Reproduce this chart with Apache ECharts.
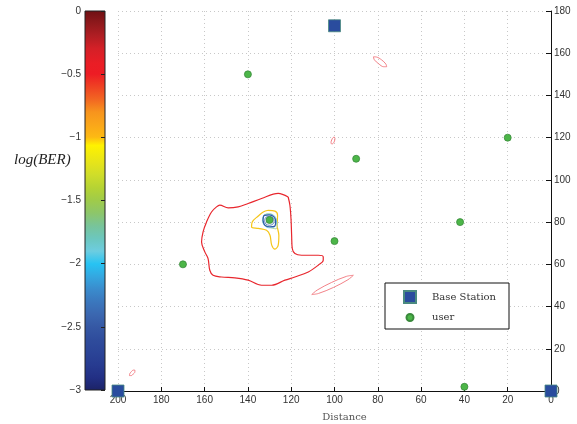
<!DOCTYPE html>
<html><head><meta charset="utf-8">
<script src="https://cdn.jsdelivr.net/npm/echarts@6/dist/echarts.min.js"></script>
<style>html,body{margin:0;padding:0;background:#fff}#c{width:577px;height:424px}</style>
</head><body><div id="c"></div><script>
// ---- data ----
const baseStations = [[200,0],[0,0],[100,173]];
const users = [[140,150],[20,120],[90,110],[42,80],[100,71],[130,81],[170,60],[40,2]];
const berRange = [-3, 0];
const contourRed = [[121.4,91.9],[126.0,93.6],[133.7,91.2],[139.9,88.8],[144.5,87.2],[149.1,86.7],[153.0,88.0],[154.5,87.2],[156.8,84.8],[159.1,80.1],[160.7,75.4],[161.4,70.6],[159.9,65.9],[158.4,62.7],[157.6,57.2],[156.1,54.8],[152.2,54.0],[146.0,53.6],[139.9,52.5],[133.7,50.1],[129.0,50.1],[122.9,52.5],[118.3,54.0],[112.1,56.4],[107.5,59.6],[105.2,61.9],[105.2,63.5],[107.5,64.3],[115.2,64.3],[118.3,65.1],[119.5,67.5],[119.8,73.8],[120.1,81.7],[120.6,88.0],[121.4,91.9]];
const contourRedA = [[75.9,153.6],[76.3,154.9],[78.3,156.9],[80.6,158.2],[82.0,158.3],[81.6,156.9],[79.6,155.0],[77.3,153.6],[75.9,153.6]];
const contourRedB = [[100.1,120.3],[99.8,119.7],[100.0,118.4],[100.6,117.3],[101.3,117.0],[101.6,117.7],[101.3,118.9],[100.7,120.0],[100.1,120.3]];
const contourRedC = [[91.3,54.8],[93.8,52.7],[100.4,49.1],[107.4,46.2],[110.5,45.7],[108.0,47.8],[101.4,51.4],[94.5,54.3],[91.3,54.8]];
const contourRedD = [[192.2,9.9],[192.2,9.1],[192.9,8.1],[193.9,7.3],[194.7,7.3],[194.6,8.1],[193.9,9.1],[192.9,9.9],[192.2,9.9]];
const contourYellow = [[130.6,85.6],[127.5,85.2],[126.3,83.3],[126.5,78.5],[125.7,73.8],[126.0,69.1],[127.5,67.2],[129.0,69.1],[129.8,73.8],[131.4,76.1],[135.2,77.0],[138.3,77.7],[138.0,80.1],[135.2,82.9],[132.9,84.8],[130.6,85.6]];
const contourGreen = [[133.2,81.5],[132.5,83.3],[130.5,84.0],[128.3,83.4],[127.0,81.5],[126.4,78.5],[127.0,76.8],[128.8,77.2],[131.0,78.0],[132.8,79.3],[133.2,81.5]];
const contourCyan = [[133.3,80.9],[132.5,83.2],[130.2,83.8],[127.7,82.8],[126.8,80.0],[127.6,77.8],[129.9,77.3],[132.4,78.4],[133.3,80.9]];
const contourBlue = [[133.0,80.8],[132.4,83.2],[130.2,83.4],[128.0,82.5],[127.2,80.3],[127.8,78.0],[130.0,77.8],[132.2,78.6],[133.0,80.8]];
const contourNavy = [[132.3,80.7],[131.7,82.3],[130.1,82.7],[128.5,82.1],[127.9,80.5],[128.5,79.0],[130.1,78.5],[131.7,79.1],[132.3,80.7]];

// ---- styling ----
const jet = [
  [0.000,'#6e1013'],[0.033,'#8f191c'],[0.067,'#b01e23'],[0.100,'#d42027'],[0.140,'#ea1d25'],[0.167,'#ed1c24'],
  [0.200,'#ef4123'],[0.233,'#f26522'],[0.267,'#f7941d'],[0.300,'#faa61a'],[0.333,'#fdb913'],[0.355,'#fff200'],
  [0.400,'#e6e41a'],[0.433,'#cfdd2a'],[0.467,'#b5d334'],[0.500,'#9fcb4a'],[0.533,'#8dc66a'],[0.567,'#78c49a'],
  [0.600,'#6cc7be'],[0.633,'#6dcde0'],[0.667,'#27c3f3'],[0.700,'#34a7e0'],[0.733,'#3a8ccd'],[0.767,'#3b77bd'],
  [0.800,'#3b67b0'],[0.833,'#3558a4'],[0.867,'#2f4c9c'],[0.900,'#2b4497'],[0.933,'#273b90'],[0.967,'#222f84'],[1.000,'#1c2266']
].map(s=>({offset:s[0],color:s[1]}));

const contours = [
  {d:contourRed, c:'#e8262d', w:1.2},
  {d:contourRedA, c:'#f0747a', w:0.9},
  {d:contourRedB, c:'#f0747a', w:0.9},
  {d:contourRedC, c:'#f0747a', w:0.9},
  {d:contourRedD, c:'#f0747a', w:0.9},
  {d:contourYellow, c:'#f5c518', w:1.2},
  {d:contourGreen, c:'#b2d69a', w:1},
  {d:contourCyan, c:'#7fcbe0', w:1},
  {d:contourBlue, c:'#2e5aa8', w:1.2},
  {d:contourNavy, c:'#3a6cb8', w:0.8}
];

const axisFont = {fontFamily:'Liberation Sans, Arial, sans-serif', fontSize:10, color:'#333'};
const serif = 'DejaVu Serif, serif';
const grid = {type:[1,3], color:'#c8c8c8', width:1};

const series = contours.map((k,i)=>({
  type:'line', name:'c'+i, xAxisIndex:0, yAxisIndex:0, data:k.d, showSymbol:false, smooth:0.35,
  silent:true, lineStyle:{color:k.c, width:k.w}, z:3, clip:false
}));
series.push({type:'scatter', name:'user', xAxisIndex:0, yAxisIndex:0, data:users, symbol:'circle', symbolSize:7,
  itemStyle:{color:'#4cb648', borderColor:'#3a8a3c', borderWidth:0.8, opacity:1}, z:5, clip:false});
series.push({type:'scatter', name:'Base Station', xAxisIndex:0, yAxisIndex:0, data:baseStations, symbol:'rect', symbolSize:12,
  itemStyle:{color:'#2a4c9e', borderColor:'#4a8a80', borderWidth:0.8, opacity:1}, z:6, clip:false});

const chart = echarts.init(document.getElementById('c'), null, {renderer:'canvas'});
chart.setOption({
  animation:false,
  backgroundColor:'#fff',
  grid:[
    {left:118, right:26, top:11, bottom:33, containLabel:false, outerBoundsMode:'none'},
    {left:85, width:20, top:11, bottom:34, show:true, borderColor:'#222', borderWidth:1, outerBoundsMode:'none',
     backgroundColor: new echarts.graphic.LinearGradient(0,0,0,1,jet)}
  ],
  xAxis:[
    {type:'value', gridIndex:0, min:0, max:200, interval:20, inverse:true,
     name:'Distance', nameLocation:'middle', nameGap:21,
     nameTextStyle:{fontFamily:serif, fontSize:10, color:'#555', padding:[0,0,0,20]},
     axisLine:{show:true, onZero:false, lineStyle:{color:'#111', width:1}},
     axisTick:{show:true, inside:true, length:4, lineStyle:{color:'#111'}},
     axisLabel:Object.assign({margin:4}, axisFont),
     splitLine:{show:true, lineStyle:grid}},
    {type:'value', gridIndex:1, min:0, max:1, show:false}
  ],
  yAxis:[
    {type:'value', gridIndex:0, position:'right', min:0, max:180, interval:20,
     axisLine:{show:true, onZero:false, lineStyle:{color:'#111', width:1}},
     axisTick:{show:true, inside:true, length:5, lineStyle:{color:'#111'}},
     axisLabel:Object.assign({margin:3}, axisFont),
     splitLine:{show:true, lineStyle:grid}},
    {type:'value', gridIndex:1, position:'left', min:berRange[0], max:berRange[1], interval:0.5,
     axisLine:{show:false}, axisTick:{show:false},
     axisLabel:Object.assign({margin:4, formatter:v=>String(v).replace('-','\u2212')}, axisFont),
     splitLine:{show:false}},
    {type:'value', gridIndex:1, position:'right', min:berRange[0], max:berRange[1], interval:0.5,
     axisLine:{show:false}, axisTick:{show:true, inside:true, length:4, lineStyle:{color:'#222'}},
     axisLabel:{show:false}, splitLine:{show:false}}
  ],
  legend:[
    {left:403, top:290, padding:0, itemWidth:12, itemHeight:12, data:['Base Station'], selectedMode:false,
     textStyle:{fontFamily:serif, fontSize:10, color:'#333', padding:[0,0,0,11]}},
    {left:405.5, top:312.5, padding:0, itemWidth:7, itemHeight:7, data:['user'], selectedMode:false,
     textStyle:{fontFamily:serif, fontSize:10, color:'#333', padding:[0,0,0,13.5]}}
  ],
  graphic:[
    {type:'rect', left:384.5, top:282.5, shape:{width:124, height:46}, style:{fill:'#fff', stroke:'#111', lineWidth:1}, z:4},
    {type:'text', left:14, top:153, style:{text:'log(BER)', font:'italic 15px "Liberation Serif", serif', fill:'#222'}}
  ],
  series:series
});
</script></body></html>
